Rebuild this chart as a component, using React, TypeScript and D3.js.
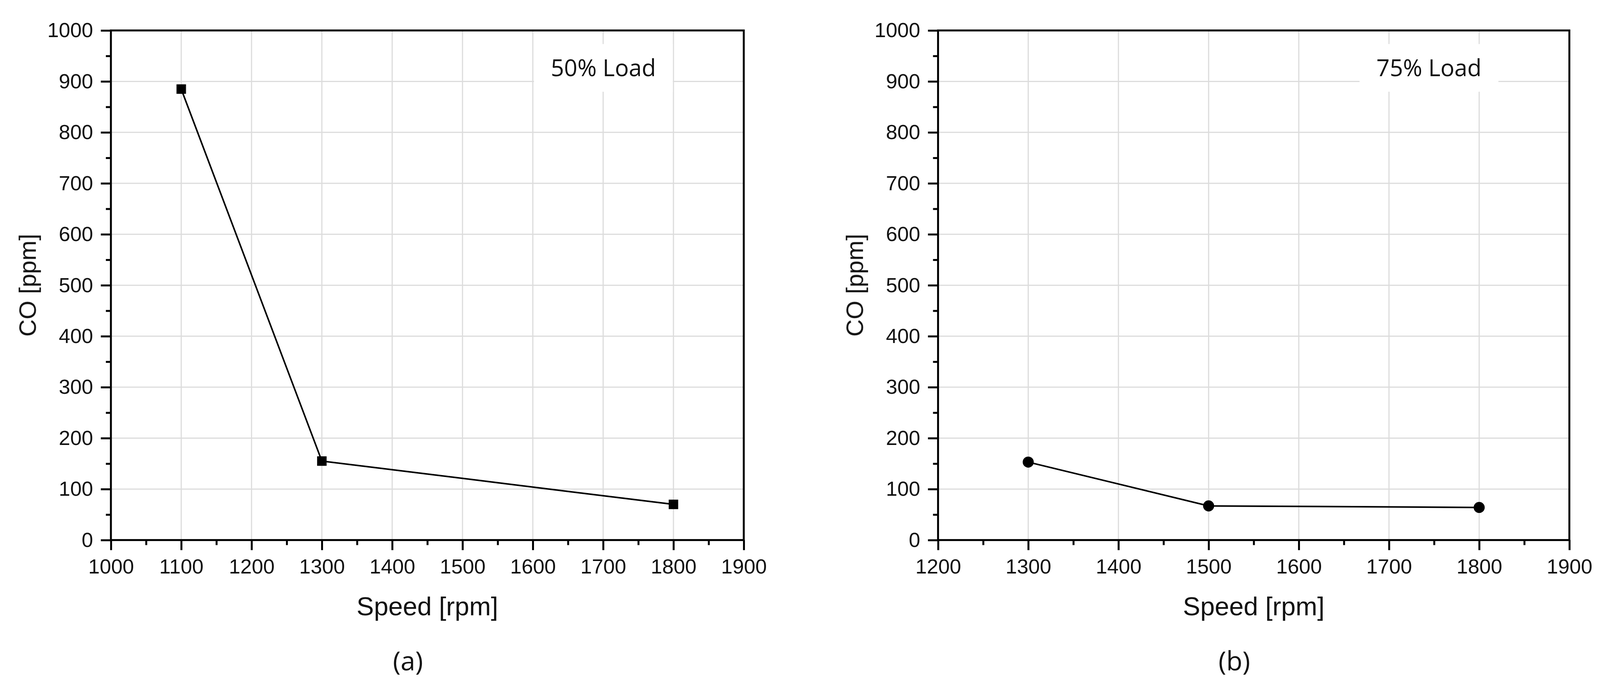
import { useRef, useEffect } from 'react';
import * as d3 from 'd3';

// Panel (a): 50% load
const speedsA = [1100, 1300, 1800];
const coA = [885, 155, 70];
const xTicksA = [1000, 1100, 1200, 1300, 1400, 1500, 1600, 1700, 1800, 1900];

// Panel (b): 75% load
const speedsB = [1300, 1500, 1800];
const coB = [153, 67, 64];
const xTicksB = [1200, 1300, 1400, 1500, 1600, 1700, 1800, 1900];

const yTicks = [0, 100, 200, 300, 400, 500, 600, 700, 800, 900, 1000];

const xTitle = 'Speed [rpm]';
const yTitle = 'CO [ppm]';

const WIDTH = 4126;
const HEIGHT = 1779;
const AXIS_FONT = '"Liberation Sans", Arial, sans-serif';
const LABEL_FONT = '"Open Sans", "Noto Sans", sans-serif';

interface PanelOpts {
  left: number;
  right: number;
  top: number;
  bottom: number;
  speeds: number[];
  values: number[];
  xTicks: number[];
  marker: d3.SymbolType;
  markerSize: number;
  loadLabel: string;
  caption: string;
}

function drawPanel(svg: d3.Selection<SVGSVGElement, unknown, null, undefined>, o: PanelOpts) {
  const g = svg.append('g');
  const x = d3
    .scaleLinear()
    .domain([o.xTicks[0], o.xTicks[o.xTicks.length - 1]])
    .range([o.left, o.right]);
  const y = d3.scaleLinear().domain([0, 1000]).range([o.bottom, o.top]);

  const gridColor = '#dcdcdc';

  // grid
  g.selectAll('.vgrid')
    .data(o.xTicks.slice(1, -1))
    .enter()
    .append('line')
    .attr('x1', (d) => x(d))
    .attr('x2', (d) => x(d))
    .attr('y1', o.top)
    .attr('y2', o.bottom)
    .attr('stroke', gridColor)
    .attr('stroke-width', 3);
  g.selectAll('.hgrid')
    .data(yTicks.slice(1, -1))
    .enter()
    .append('line')
    .attr('x1', o.left)
    .attr('x2', o.right)
    .attr('y1', (d) => y(d))
    .attr('y2', (d) => y(d))
    .attr('stroke', gridColor)
    .attr('stroke-width', 3);

  // load label with white box
  const cx = o.right - 362;
  g.append('rect')
    .attr('x', cx - 179)
    .attr('y', 107)
    .attr('width', 358)
    .attr('height', 123)
    .attr('fill', '#fff');
  g.append('text')
    .attr('x', cx)
    .attr('y', 190)
    .attr('text-anchor', 'middle')
    .attr('font-family', LABEL_FONT)
    .attr('font-size', 60)
    .attr('fill', '#111')
    .text(o.loadLabel);

  // frame
  g.append('rect')
    .attr('x', o.left)
    .attr('y', o.top)
    .attr('width', o.right - o.left)
    .attr('height', o.bottom - o.top)
    .attr('fill', 'none')
    .attr('stroke', '#000')
    .attr('stroke-width', 5);

  // x axis, major + minor
  const xMinor = d3.range(o.xTicks[0] + 50, o.xTicks[o.xTicks.length - 1], 100);
  const xAxis = g
    .append('g')
    .attr('transform', `translate(0,${o.bottom})`)
    .call(d3.axisBottom(x).tickValues(o.xTicks).tickSize(26).tickPadding(23).tickFormat((d) => String(d)));
  g.append('g')
    .attr('transform', `translate(0,${o.bottom})`)
    .call(d3.axisBottom(x).tickValues(xMinor).tickSize(13).tickFormat(() => ''))
    .call((s) => s.select('.domain').remove())
    .selectAll('line')
    .attr('stroke-width', 5);
  xAxis.select('.domain').remove();
  xAxis.selectAll('line').attr('stroke-width', 5);
  xAxis
    .selectAll('text')
    .attr('font-family', AXIS_FONT)
    .attr('font-size', 53)
    .attr('fill', '#111');

  // y axis, major + minor
  const yMinor = d3.range(50, 1000, 100);
  const yAxis = g
    .append('g')
    .attr('transform', `translate(${o.left},0)`)
    .call(d3.axisLeft(y).tickValues(yTicks).tickSize(26).tickPadding(20).tickFormat((d) => String(d)));
  g.append('g')
    .attr('transform', `translate(${o.left},0)`)
    .call(d3.axisLeft(y).tickValues(yMinor).tickSize(13).tickFormat(() => ''))
    .call((s) => s.select('.domain').remove())
    .selectAll('line')
    .attr('stroke-width', 5);
  yAxis.select('.domain').remove();
  yAxis.selectAll('line').attr('stroke-width', 5);
  yAxis
    .selectAll('text')
    .attr('font-family', AXIS_FONT)
    .attr('font-size', 53)
    .attr('fill', '#111');

  // titles
  g.append('text')
    .attr('x', (o.left + o.right) / 2)
    .attr('y', o.bottom + 194)
    .attr('text-anchor', 'middle')
    .attr('font-family', AXIS_FONT)
    .attr('font-size', 67)
    .attr('fill', '#111')
    .text(xTitle);
  g.append('text')
    .attr('transform', `translate(${o.left - 194},${(o.top + o.bottom) / 2}) rotate(-90)`)
    .attr('text-anchor', 'middle')
    .attr('font-family', AXIS_FONT)
    .attr('font-size', 62)
    .attr('fill', '#111')
    .text(yTitle);
  g.append('text')
    .attr('x', (o.left + o.right) / 2 - 50)
    .attr('y', 1722)
    .attr('text-anchor', 'middle')
    .attr('font-family', LABEL_FONT)
    .attr('font-size', 68)
    .attr('fill', '#111')
    .text(o.caption);

  // data
  const pts = o.speeds.map((s, i) => ({ s, v: o.values[i] }));
  const line = d3
    .line<{ s: number; v: number }>()
    .x((d) => x(d.s))
    .y((d) => y(d.v));
  g.append('path')
    .datum(pts)
    .attr('d', line)
    .attr('fill', 'none')
    .attr('stroke', '#000')
    .attr('stroke-width', 4);
  g.selectAll('.marker')
    .data(pts)
    .enter()
    .append('path')
    .attr('transform', (d) => `translate(${x(d.s)},${y(d.v)})`)
    .attr('d', d3.symbol().type(o.marker).size(o.markerSize)())
    .attr('fill', '#000');
}

export default function App() {
  const svgRef = useRef<SVGSVGElement>(null);

  useEffect(() => {
    if (!svgRef.current) return;
    const svg = d3.select(svgRef.current);
    svg.selectAll('*').remove();

    svg.append('rect').attr('width', WIDTH).attr('height', HEIGHT).attr('fill', '#fff');

    drawPanel(svg, {
      left: 286,
      right: 1918,
      top: 72,
      bottom: 1386,
      speeds: speedsA,
      values: coA,
      xTicks: xTicksA,
      marker: d3.symbolSquare,
      markerSize: 600,
      loadLabel: '50% Load',
      caption: '(a)',
    });
    drawPanel(svg, {
      left: 2419,
      right: 4047,
      top: 72,
      bottom: 1386,
      speeds: speedsB,
      values: coB,
      xTicks: xTicksB,
      marker: d3.symbolCircle,
      markerSize: 640,
      loadLabel: '75% Load',
      caption: '(b)',
    });
  }, []);

  return (
    <svg
      ref={svgRef}
      viewBox={`0 0 ${WIDTH} ${HEIGHT}`}
      preserveAspectRatio="xMidYMid meet"
      style={{ position: 'fixed', left: 0, top: 0, width: '100%', height: '100%', display: 'block' }}
    />
  );
}
